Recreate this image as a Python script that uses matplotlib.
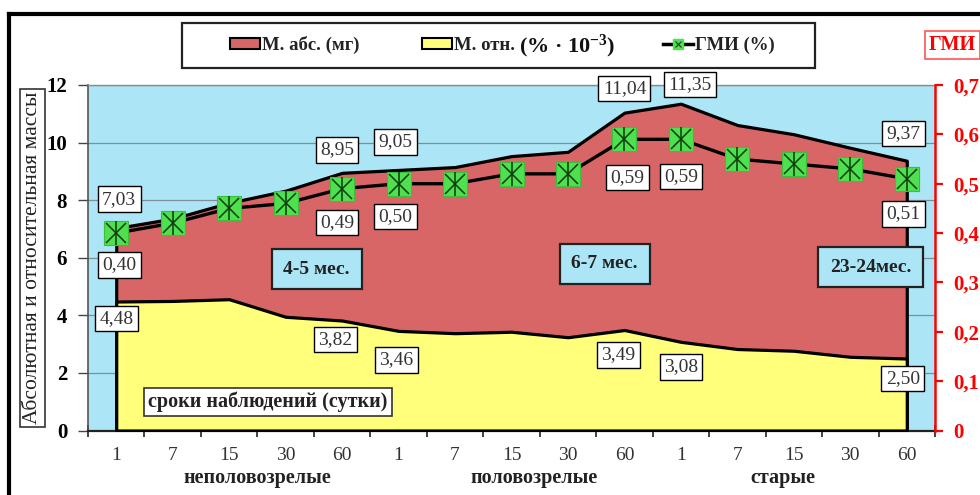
import matplotlib
matplotlib.use("Agg")
import matplotlib.pyplot as plt
from matplotlib.patches import Patch, Rectangle
from matplotlib.lines import Line2D
from matplotlib.legend_handler import HandlerTuple
import numpy as np

plt.rcParams['font.family'] = ['Liberation Serif', 'DejaVu Serif']
plt.rcParams['mathtext.fontset'] = 'custom'
plt.rcParams['mathtext.rm'] = 'Liberation Serif:bold'
plt.rcParams['mathtext.it'] = 'Liberation Serif:bold'
plt.rcParams['mathtext.bf'] = 'Liberation Serif:bold'

# ---------------- data ----------------
days = ['1', '7', '15', '30', '60', '1', '7', '15', '30', '60', '1', '7', '15', '30', '60']
groups = ['неполовозрелые', 'половозрелые', 'старые']
group_pos = [2.5, 7.4, 11.8]
ages = ['4-5 мес.', '6-7 мес.', '23-24мес.']
m_abs = [7.03, 7.36, 7.91, 8.33, 8.95, 9.05, 9.15, 9.53, 9.68, 11.04, 11.35, 10.61, 10.29, 9.82, 9.37]
m_otn = [4.48, 4.50, 4.56, 3.95, 3.82, 3.46, 3.38, 3.43, 3.24, 3.49, 3.08, 2.83, 2.77, 2.56, 2.50]
gmi = [0.40, 0.42, 0.45, 0.46, 0.49, 0.50, 0.50, 0.52, 0.52, 0.59, 0.59, 0.55, 0.54, 0.53, 0.51]
labeled = [0, 4, 5, 9, 10, 14]
left_ticks = [0, 2, 4, 6, 8, 10, 12]
right_ticks = [0, 0.1, 0.2, 0.3, 0.4, 0.5, 0.6, 0.7]

# ---------------- styles ----------------
BLUE = '#abe5f6'
RED = '#d86666'
YEL = '#ffff7c'
GRN = '#4ee04e'
red_off = [(3, 29), (-5, 23), (-3, 28), (0, 24), (9, 19), (-3, 27)]
gmi_off = [(3, -32), (-5, -34), (-3, -33), (3, -38), (0, -37), (-3, -35)]
yel_off = [(0, -17), (-7, -19), (-2, -29), (-6, -25), (0, -25), (-4, -20)]


def fmt(v):
    return f"{v:.2f}".replace('.', ',')


def fmt_tick(v):
    if v == 0:
        return '0'
    return f"{v:.1f}".replace('.', ',')


fig = plt.figure(figsize=(9.8, 4.95), dpi=100)
W, H = 980, 495
ax = fig.add_axes([88 / W, 1 - 430.5 / H, 847 / W, 345.5 / H])
ax.set_facecolor(BLUE)
x = np.arange(len(days))

ax.set_xlim(-0.5, len(days) - 0.5)
ax.set_ylim(0, 12)
ax.set_yticks(left_ticks)
ax.set_yticklabels([str(t) for t in left_ticks], fontweight='bold', fontsize=15)
ax.grid(axis='y', color='#7f8f95', lw=0.9)
ax.set_axisbelow(True)

ax.fill_between(x, 0, m_abs, facecolor=RED, edgecolor='black', lw=2.3, zorder=2)
ax.fill_between(x, 0, m_otn, facecolor=YEL, edgecolor='black', lw=2.3, zorder=3)

ax.set_xticks(x)
ax.set_xticklabels(days, fontsize=14, color='#333333')
ax.set_xticks(np.arange(-0.5, len(days)), minor=True)
ax.tick_params(axis='x', which='major', length=0, pad=12)
ax.tick_params(axis='x', which='minor', length=9, direction='inout', width=1.2, color='#222222')
ax.tick_params(axis='y', length=7, width=1.0, color='#444444', pad=8)

ax.spines['top'].set_color('#8a8a8a')
ax.spines['top'].set_linewidth(1.0)
ax.spines['left'].set_color('#555555')
ax.spines['left'].set_linewidth(1.2)
ax.spines['bottom'].set_color('#222222')
ax.spines['bottom'].set_linewidth(1.6)
ax.spines['right'].set_visible(False)

for g, p in zip(groups, group_pos):
    ax.text(p, -0.137, g, transform=ax.get_xaxis_transform(), ha='center', va='center',
            fontsize=14.5, fontweight='bold', color='#222222')

# right axis
ax2 = ax.twinx()
ax2.set_ylim(0, 0.7)
ax2.set_yticks(right_ticks)
ax2.set_yticklabels([fmt_tick(t) for t in right_ticks], fontweight='bold', fontsize=15, color='red')
ax2.tick_params(axis='y', colors='red', length=6, width=1.6, pad=7)
ax2.spines['right'].set_color('red')
ax2.spines['right'].set_linewidth(1.8)
for s in ['left', 'top', 'bottom']:
    ax2.spines[s].set_visible(False)

ax2.plot(x, gmi, color='black', lw=2.4, marker='s', ms=17, mfc=GRN, mec='#3cc03c', mew=0.8, zorder=4)
ax2.plot(x, gmi, ls='none', marker='x', ms=15, color='#0d3a0d', mew=1.1, zorder=5)
ax2.plot(x, gmi, ls='none', marker='|', ms=17, color='#0d3a0d', mew=1.1, zorder=5)

box = dict(boxstyle='square,pad=0.22', fc='white', ec='black', lw=1.0)
for k, i in enumerate(labeled):
    ax2.annotate(fmt(m_abs[i]), (x[i], m_abs[i]), xycoords=ax.transData,
                 xytext=red_off[k], textcoords='offset pixels', ha='center', va='center',
                 fontsize=14, color='#333333', bbox=box, zorder=10)
    ax2.annotate(fmt(gmi[i]), (x[i], gmi[i]), xycoords=ax2.transData,
                 xytext=gmi_off[k], textcoords='offset pixels', ha='center', va='center',
                 fontsize=14, color='#333333', bbox=box, zorder=10)
    ax2.annotate(fmt(m_otn[i]), (x[i], m_otn[i]), xycoords=ax.transData,
                 xytext=yel_off[k], textcoords='offset pixels', ha='center', va='center',
                 fontsize=14, color='#333333', bbox=box, zorder=10)

age_pos = [(0.270, 0.467), (0.610, 0.482), (0.924, 0.473)]
abox = dict(boxstyle='square,pad=0.6', fc=BLUE, ec='#222222', lw=1.6)
for t, (px, py) in zip(ages, age_pos):
    ax2.text(px, py, t, transform=ax2.transAxes, ha='center', va='center', fontsize=14,
             fontweight='bold', color='#222222', bbox=abox, zorder=11)

ax2.text(0.2125, 0.0825, 'сроки наблюдений (сутки)', transform=ax2.transAxes, ha='center',
         va='center', fontsize=14.5, fontweight='bold', color='#222222',
         bbox=dict(boxstyle='square,pad=0.2', fc='white', ec='#333333', lw=1.2), zorder=11)

# y label
fig.text(32.5 / W, 1 - 258 / H, 'Абсолютная и относительная массы', rotation=90, ha='center',
         va='center', fontsize=15.5, color='#222222',
         bbox=dict(boxstyle='square,pad=0.15', fc='white', ec='#333333', lw=1.2))

# right axis title
fig.text(929 / W, 1 - 45 / H, 'ГМИ', ha='left', va='center', fontsize=14.5, fontweight='bold',
         color='red', bbox=dict(boxstyle='square,pad=0.2', fc='white', ec='#ff5555', lw=1.2))

# legend
fig.add_artist(Rectangle((182 / W, 1 - 68 / H), 633 / W, 45 / H, transform=fig.transFigure,
                         fc='white', ec='#222222', lw=1.6, zorder=1))
handles = [Patch(fc=RED, ec='black', lw=1.5), Patch(fc=YEL, ec='black', lw=1.5),
           (Line2D([], [], color='black', lw=2.5, marker='s', ms=7, mfc=GRN, mec=GRN),
            Line2D([], [], ls='none', marker='x', ms=5, color='#114411', mew=0.8))]
labels = ['М. абс. (мг)', 'М. отн. (% · 10$^{-3}$)', 'ГМИ (%)']
leg = fig.legend(handles, labels, loc='center', ncol=3, mode='expand',
                 bbox_to_anchor=(230 / W, 1 - 65 / H, 545 / W, 40 / H),
                 prop=dict(weight='bold', size=13.5), frameon=False,
                 handlelength=1.6, handleheight=0.55, handletextpad=0.1,
                 borderpad=0.0, borderaxespad=0.0,
                 handler_map={tuple: HandlerTuple(ndivide=1)})
leg.set_zorder(2)
for t in leg.get_texts():
    t.set_color('#222222')
t2 = leg.get_texts()[1]
t2.set_alpha(0)

fig.canvas.draw()
r = fig.canvas.get_renderer()
bb = t2.get_window_extent(r)
ycen = (bb.y0 + bb.y1) / 2 / H
first = fig.text(bb.x0 / W, ycen, 'М. отн.', fontsize=13.5, fontweight='bold', color='#222222',
                 ha='left', va='center', zorder=3)
fw = first.get_window_extent(r).width
fig.text((bb.x0 + fw + 4) / W, ycen - 0.003, '(% · 10$^{-3}$)', fontsize=16,
         fontweight='bold', color='#111111', ha='left', va='center', zorder=3)

# outer frame
fig.add_artist(Line2D([9 / W, 1.0], [1 - 14 / H, 1 - 14 / H], transform=fig.transFigure, color='black', lw=3))
fig.add_artist(Line2D([9 / W, 9 / W], [1 - 14 / H, 0], transform=fig.transFigure, color='black', lw=3))

fig.savefig('out.png', dpi=100)
